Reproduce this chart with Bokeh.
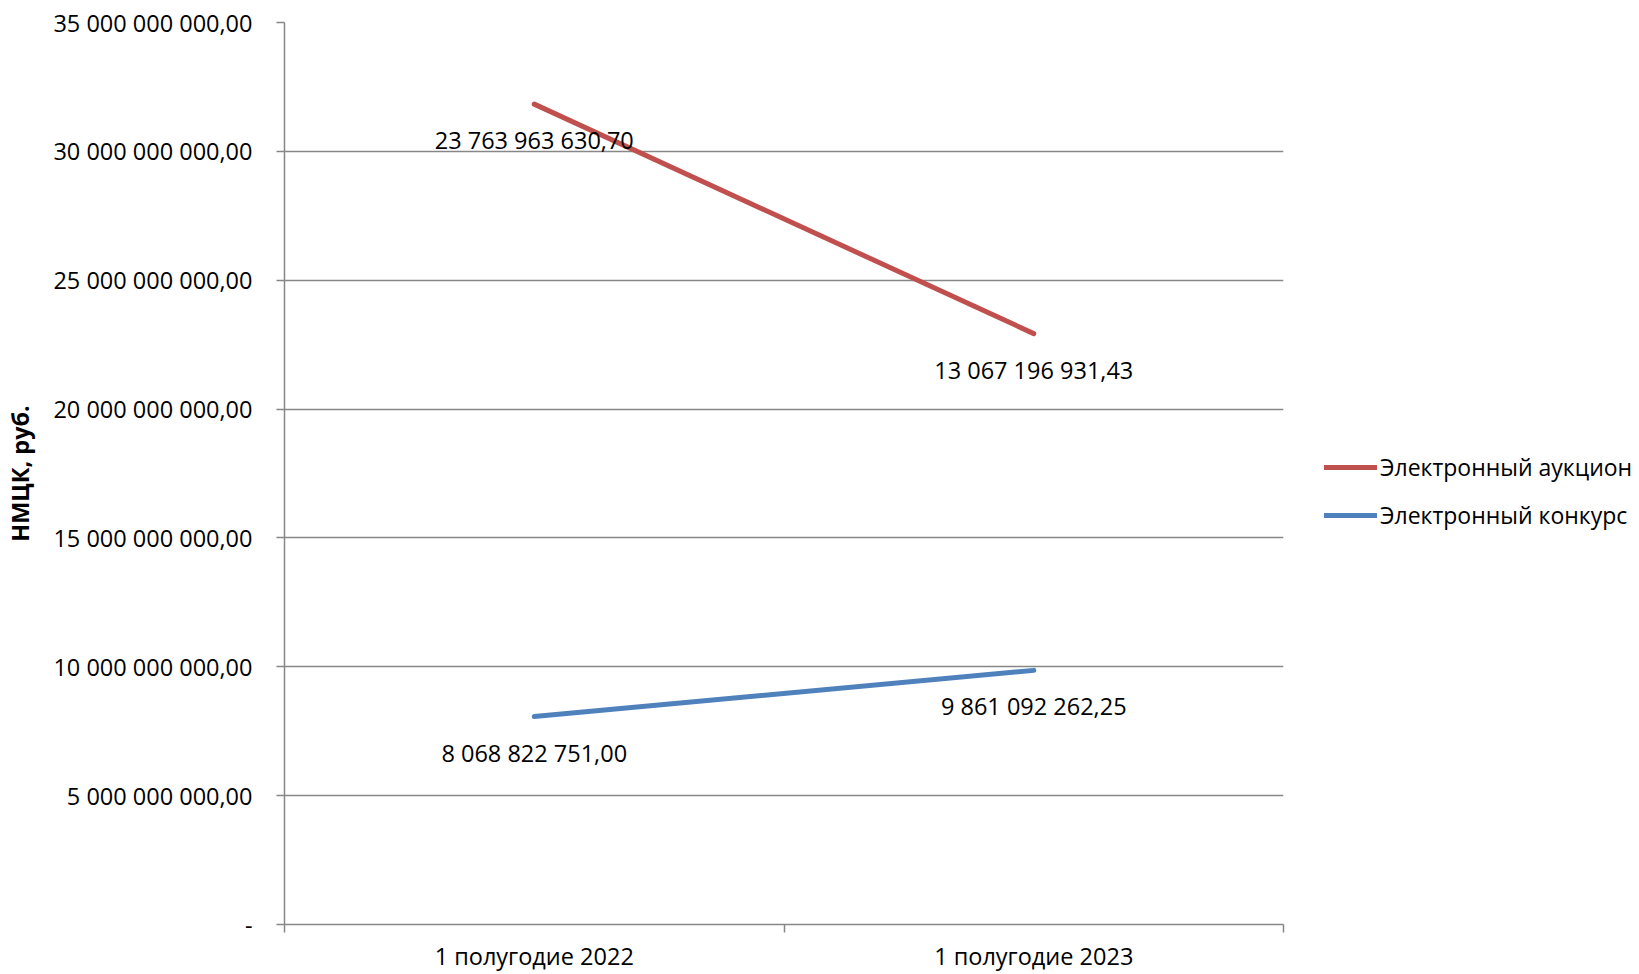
from bokeh.plotting import figure
from bokeh.layouts import row
from bokeh.models import ColumnDataSource, FixedTicker, Legend, LegendItem, Range1d
from bokeh.core.properties import value
from bokeh.embed import file_html
from bokeh.resources import INLINE

categories = ["1 полугодие 2022", "1 полугодие 2023"]
auction = [23763963630.70, 13067196931.43]   # Электронный аукцион
contest = [8068822751.00, 9861092262.25]     # Электронный конкурс
auction_labels = ["23 763 963 630,70", "13 067 196 931,43"]
contest_labels = ["8 068 822 751,00", "9 861 092 262,25"]
series_names = ["Электронный аукцион", "Электронный конкурс"]
y_ticks = [0, 5e9, 10e9, 15e9, 20e9, 25e9, 30e9, 35e9]
y_tick_labels = ["-", "5 000 000 000,00", "10 000 000 000,00", "15 000 000 000,00",
                 "20 000 000 000,00", "25 000 000 000,00", "30 000 000 000,00",
                 "35 000 000 000,00"]

FONT = "Open Sans"
FS = "23.5px"
RED = "#C0504D"
BLUE = "#4F81BD"
GRID = "#878787"
H = 974

xs = [i + 0.5 for i in range(len(categories))]
stack_top = [c + a for c, a in zip(contest, auction)]  # stacked line chart

p = figure(width=1285, height=H, output_backend="svg", toolbar_location=None,
           x_range=Range1d(0, len(categories)), y_range=Range1d(0, 35e9),
           min_border_left=284, min_border_right=2, min_border_top=22,
           min_border_bottom=30)
p.outline_line_color = None
p.xgrid.grid_line_color = None
p.ygrid.grid_line_color = GRID
p.ygrid.grid_line_width = 1.5
p.ygrid.ticker = FixedTicker(ticks=y_ticks[1:])

src_c = ColumnDataSource(dict(x=xs, y=contest, lab=contest_labels))
src_a = ColumnDataSource(dict(x=xs, y=stack_top, lab=auction_labels))

p.line("x", "y", source=src_a, line_color=RED, line_width=5, line_cap="round")
p.line("x", "y", source=src_c, line_color=BLUE, line_width=5, line_cap="round")

for src in (src_a, src_c):
    p.text("x", "y", text="lab", source=src, text_font=value(FONT),
           text_font_size=FS, text_align="center", text_baseline="middle",
           y_offset=36, text_color="black")

# y axis
ya = p.yaxis[0]
ya.ticker = FixedTicker(ticks=y_ticks)
ya.major_label_overrides = {t: l for t, l in zip(y_ticks, y_tick_labels)}
ya.major_label_text_font = FONT
ya.major_label_text_font_size = FS
ya.major_label_text_color = "black"
ya.major_label_standoff = 24
ya.major_tick_out = 8
ya.major_tick_in = 0
ya.minor_tick_out = 0
ya.minor_tick_in = 0
ya.axis_line_color = GRID
ya.axis_line_width = 1.5
ya.major_tick_line_color = GRID
ya.major_tick_line_width = 1.5
ya.axis_label = "НМЦК, руб."
ya.axis_label_text_font = FONT
ya.axis_label_text_font_size = FS
ya.axis_label_text_font_style = "bold"
ya.axis_label_text_color = "black"
ya.axis_label_standoff = 14

# x axis
xa = p.xaxis[0]
xa.ticker = FixedTicker(ticks=xs, minor_ticks=list(range(len(categories) + 1)))
xa.major_label_overrides = {x: c for x, c in zip(xs, categories)}
xa.major_label_text_font = FONT
xa.major_label_text_font_size = FS
xa.major_label_text_color = "black"
xa.major_label_standoff = 7
xa.major_tick_out = 0
xa.major_tick_in = 0
xa.minor_tick_out = 8
xa.minor_tick_in = 0
xa.minor_tick_line_color = GRID
xa.minor_tick_line_width = 1.5
xa.axis_line_color = GRID
xa.axis_line_width = 1.5

# legend panel (swatch renderers lie outside the visible range)
q = figure(width=1639 - 1285, height=H, output_backend="svg", toolbar_location=None,
           x_range=Range1d(0, 1), y_range=Range1d(0, 1),
           min_border_left=0, min_border_right=0, min_border_top=0, min_border_bottom=0)
q.outline_line_color = None
q.axis.visible = False
q.grid.grid_line_color = None
swatch = ColumnDataSource(dict(x=[-3, -2], y=[-3, -2]))
la = q.line("x", "y", source=swatch, line_color=RED, line_width=5, line_cap="round")
lc = q.line("x", "y", source=swatch, line_color=BLUE, line_width=5, line_cap="round")

legend = Legend(items=[LegendItem(label=series_names[0], renderers=[la]),
                       LegendItem(label=series_names[1], renderers=[lc])],
                location=(39, 389), orientation="vertical")
legend.label_text_font = FONT
legend.label_text_font_size = "23px"
legend.label_text_color = "black"
legend.glyph_width = 53
legend.glyph_height = 40
legend.label_height = 40
legend.spacing = 8
legend.label_standoff = 3
legend.padding = 0
legend.margin = 0
legend.border_line_color = None
legend.background_fill_alpha = 0
q.add_layout(legend, "center")

open("out.html", "w").write(file_html(row(p, q), INLINE))
